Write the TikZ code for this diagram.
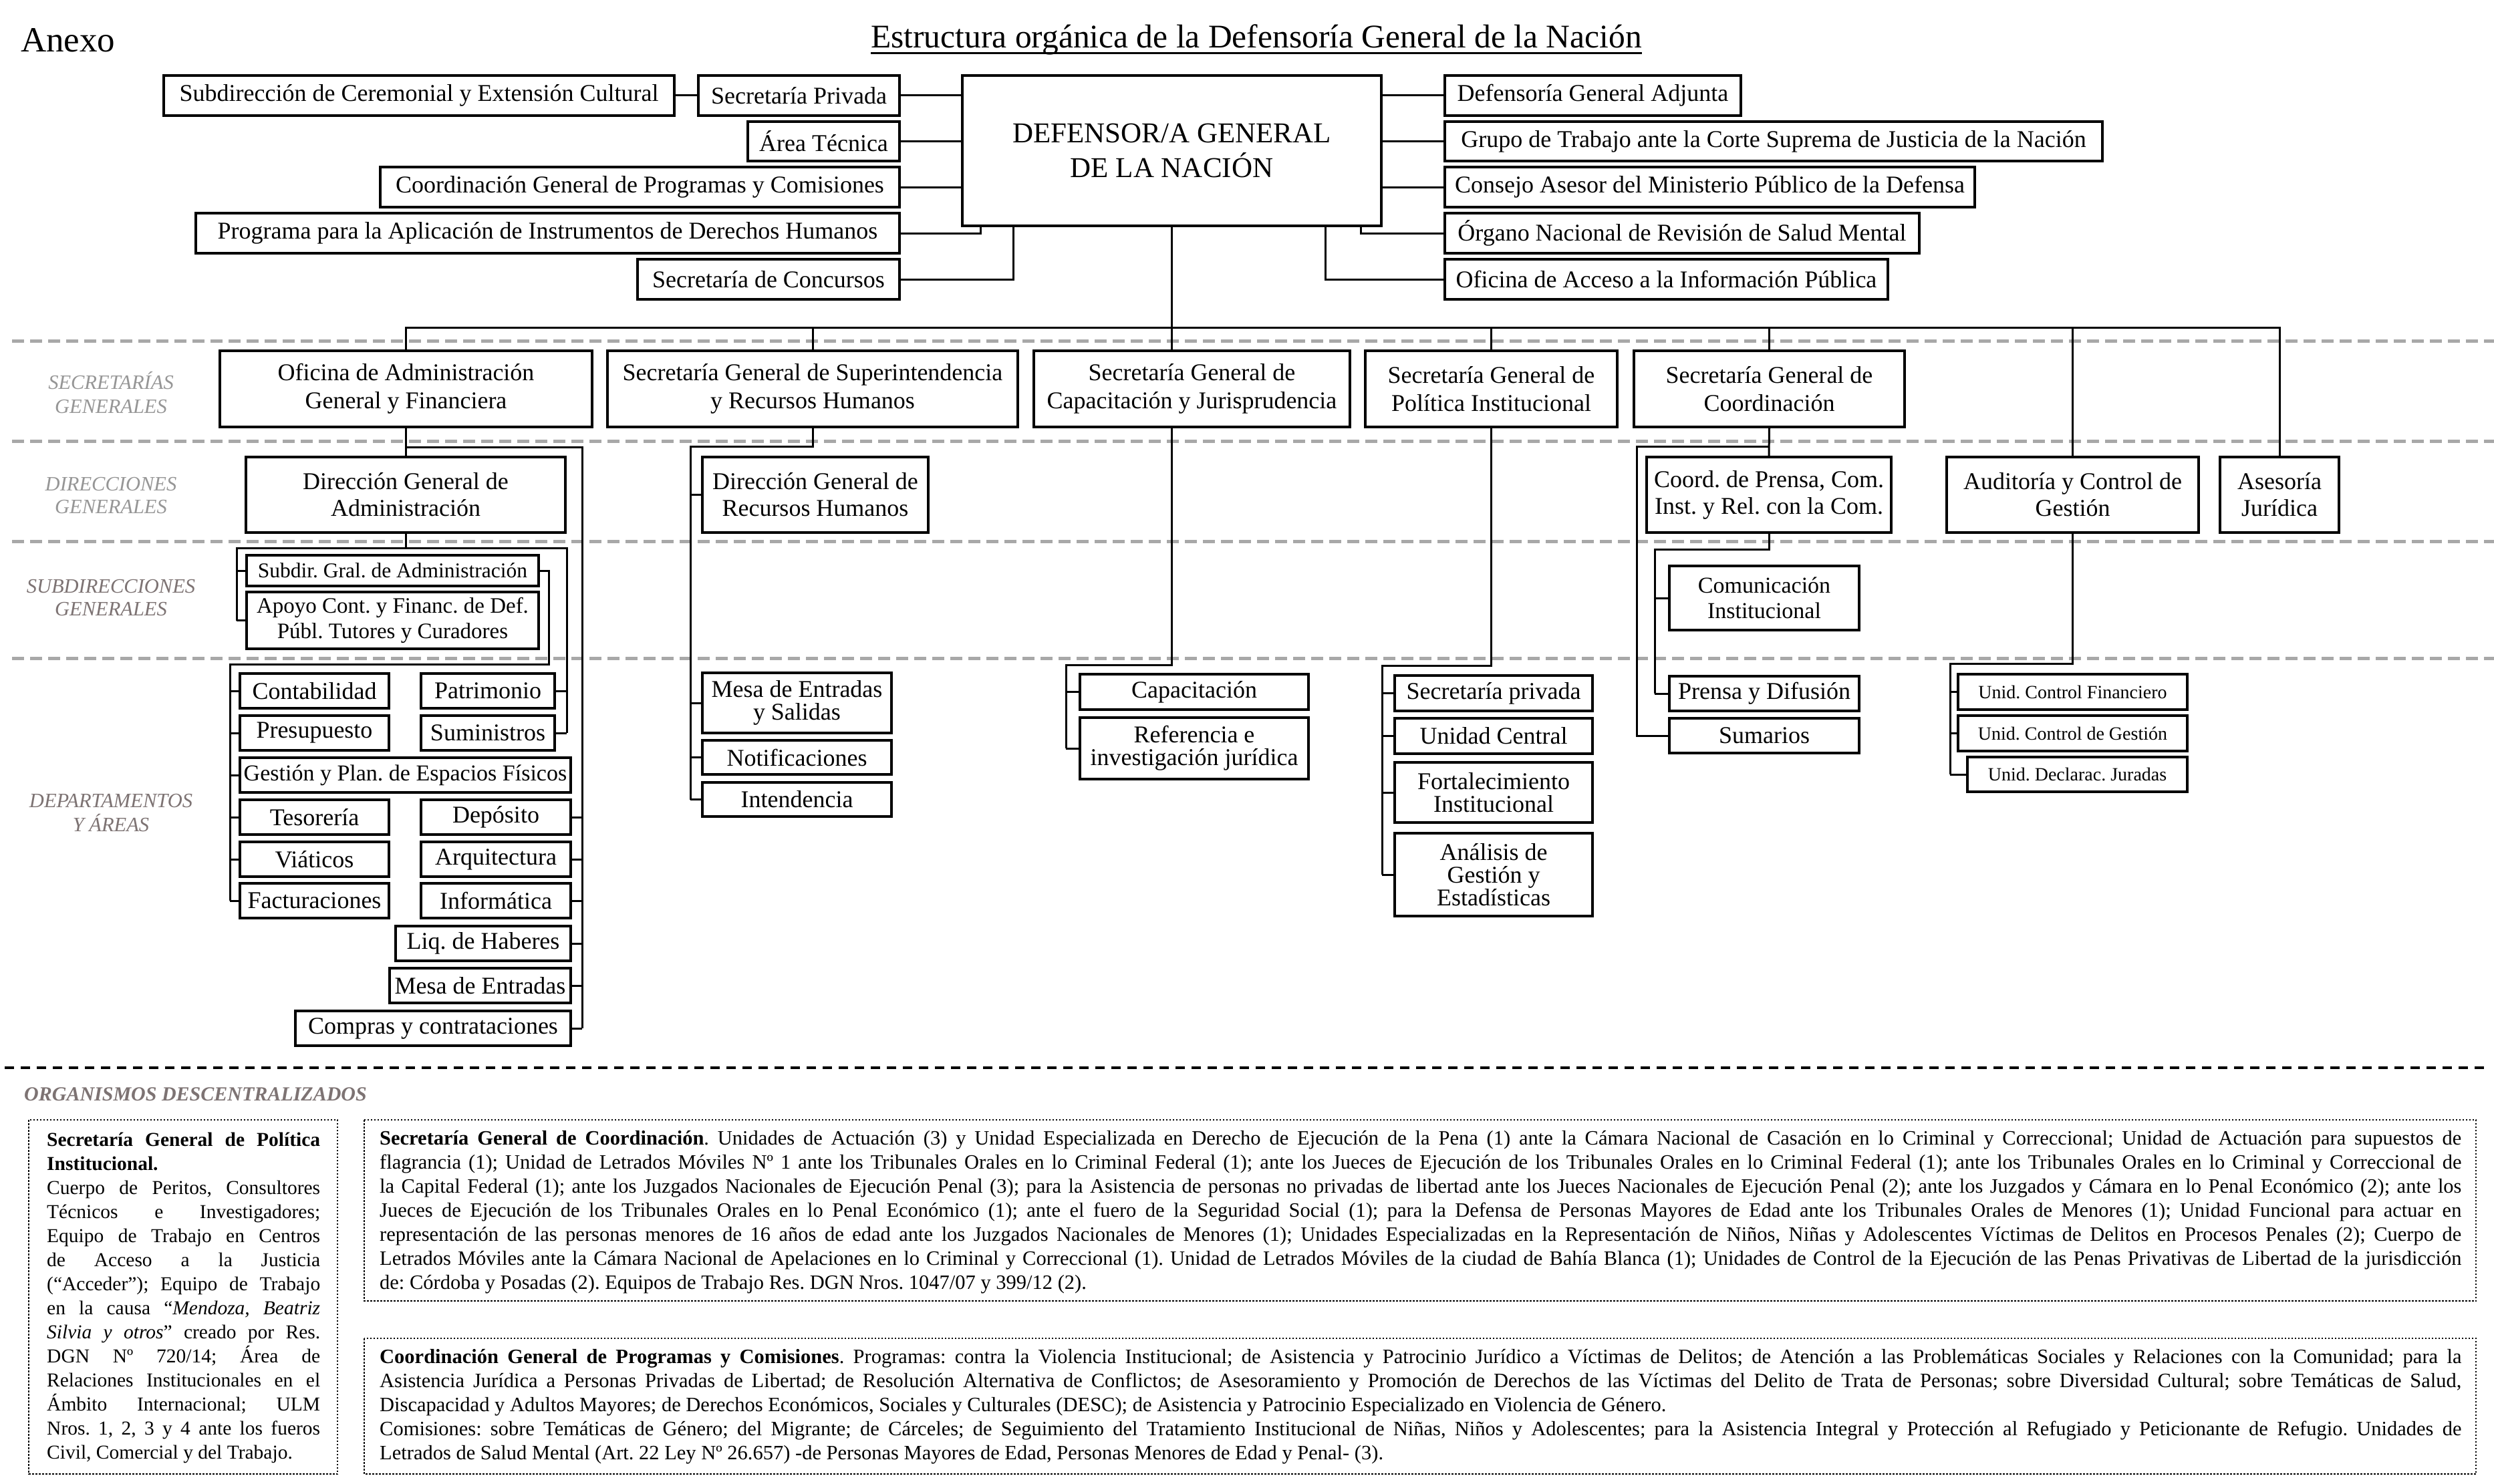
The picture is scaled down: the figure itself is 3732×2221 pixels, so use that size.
\documentclass[tikz,border=0pt]{standalone}
\usepackage{fontspec}
\setmainfont{Liberation Serif}
\usetikzlibrary{calc}
\frenchspacing
\definecolor{lblA}{RGB}{150,150,150}
\definecolor{lblB}{RGB}{125,115,115}
\definecolor{sepgray}{RGB}{168,168,168}
\newcommand{\fs}[2]{\fontsize{#1}{#2}\selectfont}
\newcommand{\bx}[7][]{\node[box,minimum width={(#5-#3)*1pt},minimum height={(#6-#4)*1pt},#1] (#2) at ({(#3+#5)/2},{(#4+#6)/2}) {#7};}
\tikzset{
  box/.style={draw, fill=white, line width=3.5pt, inner sep=0pt, outer sep=0pt, align=center, font=\fs{36}{42}},
  tight/.style={font=\fs{36}{34}},
  conn/.style={line width=3pt},
  sepline/.style={draw=sepgray, line width=5pt, dash pattern=on 18pt off 9pt},
  lbl/.style={font=\fs{30.5}{36}\itshape, inner sep=0pt, anchor=base},
  dotb/.style={line width=2.5pt, dash pattern=on 2.5pt off 2.5pt},
}
\begin{document}
\begin{tikzpicture}[x=1pt,y=-1pt]
\fill[white] (0,0) rectangle (3732,2221);
\useasboundingbox (0,0) rectangle (3732,2221);

% separators
\draw[sepline] (18,510) -- (3732,510);
\draw[sepline] (18,660) -- (3732,660);
\draw[sepline] (18,810) -- (3732,810);
\draw[sepline] (18,985) -- (3732,985);
\draw[line width=4pt, dash pattern=on 14pt off 10pt] (7,1598) -- (3722,1598);

% heading
\node[anchor=base west, inner sep=0pt, font=\fs{53}{60}] (anexo) at (31,78) {Anexo};
\node[anchor=base, inner sep=0pt, font=\fs{49.5}{56}] (title) at (1880,72) {Estructura orgánica de la Defensoría General de la Nación};
\draw[line width=3pt] ($(title.base west)+(0,8)$) -- ($(title.base east)+(0,8)$);

% left labels
\node[lbl, text=lblA] (lsec1) at (166,582) {SECRETARÍAS};
\node[lbl, text=lblA] (lsec2) at (166,618) {GENERALES};
\node[lbl, text=lblA] (ldir1) at (166,734) {DIRECCIONES};
\node[lbl, text=lblA] (ldir2) at (166,768) {GENERALES};
\node[lbl, text=lblB] (lsub1) at (166,887) {SUBDIRECCIONES};
\node[lbl, text=lblB] (lsub2) at (166,921) {GENERALES};
\node[lbl, text=lblB] (ldep1) at (166,1208) {DEPARTAMENTOS};
\node[lbl, text=lblB] (ldep2) at (166,1244) {Y ÁREAS};

% top
\bx[font=\fs{43}{52}]{DEF}{1440}{113}{2067}{338}{DEFENSOR/A GENERAL\\DE LA NACIÓN}
\bx{subdir}{245}{113}{1009}{173}{Subdirección de Ceremonial y Extensión Cultural}
\bx{secpriv}{1045}{113}{1346}{173}{Secretaría Privada}
\bx{areatec}{1119}{182}{1346}{241}{Área Técnica}
\bx{coordprog}{569}{250}{1346}{310}{Coordinación General de Programas y Comisiones}
\bx{progDH}{293}{319}{1346}{379}{Programa para la Aplicación de Instrumentos de Derechos Humanos}
\bx{seccon}{954}{388}{1346}{448}{Secretaría de Concursos}
\bx{adj}{2162}{113}{2605}{173}{Defensoría General Adjunta}
\bx{grupo}{2162}{182}{3146}{241}{Grupo de Trabajo ante la Corte Suprema de Justicia de la Nación}
\bx{consejo}{2162}{250}{2955}{310}{Consejo Asesor del Ministerio Público de la Defensa}
\bx{organo}{2162}{319}{2872}{379}{Órgano Nacional de Revisión de Salud Mental}
\bx{ofacc}{2162}{388}{2825}{448}{Oficina de Acceso a la Información Pública}

% secretarias
\bx{ofadm}{329}{525}{886}{639}{Oficina de Administración\\General y Financiera}
\bx{superint}{909}{525}{1523}{639}{Secretaría General de Superintendencia\\y Recursos Humanos}
\bx{capjur}{1547}{525}{2020}{639}{Secretaría General de\\Capacitación y Jurisprudencia}
\bx{polinst}{2043}{525}{2420}{639}{Secretaría General de\\Política Institucional}
\bx{coordsg}{2445}{525}{2850}{639}{Secretaría General de\\Coordinación}

% direcciones
\bx[font=\fs{36}{40}]{dgadm}{368}{684}{846}{797}{Dirección General de\\Administración}
\bx[font=\fs{36}{40}]{dgrrhh}{1051}{684}{1389}{797}{Dirección General de\\Recursos Humanos}
\bx[font=\fs{36}{40}]{coordprensa}{2464}{684}{2830}{797}{Coord. de Prensa, Com.\\Inst. y Rel. con la Com.}
\bx[font=\fs{36}{40}]{auditoria}{2913}{684}{3290}{797}{Auditoría y Control de\\Gestión}
\bx[font=\fs{36}{40}]{asesoria}{3322}{684}{3500}{797}{Asesoría\\Jurídica}

% subdirecciones
\bx[font=\fs{31.5}{36}]{subdirg}{369}{831}{806}{877}{Subdir. Gral. de Administración}
\bx[font=\fs{33}{38}]{apoyo}{369}{886}{806}{971}{Apoyo Cont. y Financ. de Def.\\Públ. Tutores y Curadores}
\bx[font=\fs{34}{38}]{comunic}{2498}{847}{2782}{943}{Comunicación\\Institucional}

% departamentos - administracion
\bx{contab}{359}{1008}{582}{1060}{Contabilidad}
\bx{patrim}{630}{1008}{830}{1060}{Patrimonio}
\bx{presup}{359}{1071}{582}{1123}{Presupuesto}
\bx{sumin}{630}{1071}{830}{1123}{Suministros}
\bx[font=\fs{34}{38}]{gestion}{359}{1134}{854}{1186}{Gestión y Plan. de Espacios Físicos}
\bx{tesor}{359}{1197}{582}{1249}{Tesorería}
\bx{deposito}{630}{1197}{854}{1249}{Depósito}
\bx{viaticos}{359}{1260}{582}{1312}{Viáticos}
\bx{arquit}{630}{1260}{854}{1312}{Arquitectura}
\bx{factur}{359}{1322}{582}{1374}{Facturaciones}
\bx{inform}{630}{1322}{854}{1374}{Informática}
\bx{liq}{592}{1386}{854}{1438}{Liq. de Haberes}
\bx{mesaent}{583}{1449}{854}{1501}{Mesa de Entradas}
\bx{compras}{442}{1513}{854}{1565}{Compras y contrataciones}

% superintendencia
\bx[tight]{mesaES}{1051}{1007}{1334}{1097}{Mesa de Entradas\\y Salidas}
\bx{notif}{1051}{1108}{1334}{1159}{Notificaciones}
\bx{intend}{1051}{1171}{1334}{1222}{Intendencia}

% capacitacion
\bx{capacit}{1616}{1009}{1958}{1062}{Capacitación}
\bx[tight]{referencia}{1616}{1074}{1958}{1166}{Referencia e\\investigación jurídica}

% politica
\bx{secprivada}{2087}{1011}{2383}{1064}{Secretaría privada}
\bx{unicentral}{2087}{1075}{2383}{1128}{Unidad Central}
\bx[tight]{fortalec}{2087}{1141}{2383}{1231}{Fortalecimiento\\Institucional}
\bx[tight]{analisis}{2087}{1247}{2383}{1371}{Análisis de\\Gestión y\\Estadísticas}

% coordinacion
\bx{prensa}{2498}{1012}{2782}{1064}{Prensa y Difusión}
\bx{sumarios}{2498}{1075}{2782}{1127}{Sumarios}

% auditoria
\bx[font=\fs{28}{32}]{ucf}{2930}{1009}{3273}{1062}{Unid. Control Financiero}
\bx[font=\fs{28}{32}]{ucg}{2930}{1071}{3273}{1124}{Unid. Control de Gestión}
\bx[font=\fs{28}{32}]{udj}{2944}{1133}{3273}{1185}{Unid. Declarac. Juradas}

% ---------- connectors ----------
\draw[conn] (subdir.east) -- (secpriv.west);
\foreach \n in {secpriv,areatec,coordprog} \draw[conn] (\n.east) -- (\n.east -| DEF.west);
\coordinate (dA) at (1467,338);
\coordinate (dB) at (1516,338);
\draw[conn] (progDH.east) -| (dA);
\draw[conn] (seccon.east) -| (dB);
\foreach \n in {adj,grupo,consejo} \draw[conn] (\n.west -| DEF.east) -- (\n.west);
\coordinate (dC) at (2036,338);
\coordinate (dD) at (1983,338);
\draw[conn] (dC) |- (organo.west);
\draw[conn] (dD) |- (ofacc.west);

\coordinate (bus) at (0,490);
\draw[conn] (ofadm.north) |- (bus -| asesoria.north) -- (asesoria.north);
\draw[conn] (DEF.south) -- (DEF.south |- capjur.north);
\foreach \n in {superint,polinst,coordsg} \draw[conn] (\n.north |- bus) -- (\n.north);
\draw[conn] (auditoria.north |- bus) -- (auditoria.north);

% oficina de administracion
\draw[conn] (ofadm.south) -- (ofadm.south |- dgadm.north);
\coordinate (spA) at (871,669);
\draw[conn] (ofadm.south |- spA) -- (spA) -- (spA |- compras.east);
\foreach \n in {deposito,arquit,inform,liq,mesaent,compras} \draw[conn] (\n.east) -- (\n.east -| spA);

\coordinate (bkL) at (354,820);
\coordinate (bkR) at (848,820);
\draw[conn] (dgadm.south) -- (dgadm.south |- bkL);
\draw[conn] (bkL |- apoyo.west) -- (bkL) -- (bkR) -- (bkR |- sumin.east);
\draw[conn] (bkL |- subdirg.west) -- (subdirg.west);
\draw[conn] (bkL |- apoyo.west) -- (apoyo.west);
\draw[conn] (patrim.east) -- (patrim.east -| bkR);
\draw[conn] (sumin.east) -- (sumin.east -| bkR);

\coordinate (spC) at (821,994);
\coordinate (spD) at (344,994);
\draw[conn] (subdirg.east) -| (spC) -- (spD) -- (spD |- factur.west);
\foreach \n in {contab,presup,gestion,tesor,viaticos,factur} \draw[conn] (\n.west -| spD) -- (\n.west);

% superintendencia
\coordinate (spB) at (1033,668);
\draw[conn] (superint.south) |- (spB) -- (spB |- intend.west);
\foreach \n in {dgrrhh,mesaES,notif,intend} \draw[conn] (\n.west -| spB) -- (\n.west);

% capacitacion
\coordinate (spE) at (1595,995);
\draw[conn] (capjur.south -| DEF.south) |- (spE) -- (spE |- referencia.west);
\foreach \n in {capacit,referencia} \draw[conn] (\n.west -| spE) -- (\n.west);

% politica
\coordinate (spF) at (2068,996);
\draw[conn] (polinst.south) |- (spF) -- (spF |- analisis.west);
\foreach \n in {secprivada,unicentral,fortalec,analisis} \draw[conn] (\n.west -| spF) -- (\n.west);

% coordinacion
\draw[conn] (coordsg.south) -- (coordprensa.north);
\coordinate (spG) at (2449,668);
\draw[conn] (coordsg.south |- spG) -- (spG) -- (spG |- sumarios.west) -- (sumarios.west);
\coordinate (spH) at (2476,822);
\draw[conn] (coordprensa.south) |- (spH) -- (spH |- prensa.west);
\foreach \n in {comunic,prensa} \draw[conn] (\n.west -| spH) -- (\n.west);

% auditoria
\coordinate (spI) at (2918,993);
\draw[conn] (auditoria.south) |- (spI) -- (spI |- udj.west);
\foreach \n in {ucf,ucg,udj} \draw[conn] (\n.west -| spI) -- (\n.west);

% ---------- organismos descentralizados ----------
\node[anchor=base west, inner sep=0pt, text=lblB, font=\fs{30}{36}\bfseries\itshape] (orgtit) at (36,1647) {ORGANISMOS DESCENTRALIZADOS};
\draw[dotb] (43,1676) rectangle (505,2206);
\draw[dotb] (545,1676) rectangle (3705,1947);
\draw[dotb] (545,2003) rectangle (3705,2206);

\node[anchor=base west, inner sep=0pt] (lefttxt) at (70,1715) {\parbox[t]{409pt}{\fs{29.5}{36}\frenchspacing\hyphenpenalty=10000\tolerance=10000\hbadness=10000%
\textbf{Secretaría General de Política\linebreak Institucional.}\newline
Cuerpo de Peritos, Consultores\linebreak
Técnicos e Investigadores;\linebreak
Equipo de Trabajo en Centros\linebreak
de Acceso a la Justicia\linebreak
(“Acceder”); Equipo de Trabajo\linebreak
en la causa “\textit{Mendoza, Beatriz\linebreak
Silvia y otros}” creado por Res.\linebreak
DGN Nº 720/14; Área de\linebreak
Relaciones Institucionales en el\linebreak
Ámbito Internacional; ULM\linebreak
Nros. 1, 2, 3 y 4 ante los fueros\linebreak
Civil, Comercial y del Trabajo.}};

\node[anchor=base west, inner sep=0pt] (sgctxt) at (568,1713) {\parbox[t]{3115pt}{\fs{30.5}{36}\frenchspacing\hyphenpenalty=10000\tolerance=10000\hbadness=10000%
\textbf{Secretaría General de Coordinación}. Unidades de Actuación (3) y Unidad Especializada en Derecho de Ejecución de la Pena (1) ante la Cámara Nacional de Casación en lo Criminal y Correccional; Unidad de Actuación para supuestos de\linebreak
flagrancia (1); Unidad de Letrados Móviles Nº 1 ante los Tribunales Orales en lo Criminal Federal (1); ante los Jueces de Ejecución de los Tribunales Orales en lo Criminal Federal (1); ante los Tribunales Orales en lo Criminal y Correccional de\linebreak
la Capital Federal (1); ante los Juzgados Nacionales de Ejecución Penal (3); para la Asistencia de personas no privadas de libertad ante los Jueces Nacionales de Ejecución Penal (2); ante los Juzgados y Cámara en lo Penal Económico (2); ante los\linebreak
Jueces de Ejecución de los Tribunales Orales en lo Penal Económico (1); ante el fuero de la Seguridad Social (1); para la Defensa de Personas Mayores de Edad ante los Tribunales Orales de Menores (1); Unidad Funcional para actuar en\linebreak
representación de las personas menores de 16 años de edad ante los Juzgados Nacionales de Menores (1); Unidades Especializadas en la Representación de Niños, Niñas y Adolescentes Víctimas de Delitos en Procesos Penales (2); Cuerpo de\linebreak
Letrados Móviles ante la Cámara Nacional de Apelaciones en lo Criminal y Correccional (1). Unidad de Letrados Móviles de la ciudad de Bahía Blanca (1); Unidades de Control de la Ejecución de las Penas Privativas de Libertad de la jurisdicción\linebreak
de: Córdoba y Posadas (2). Equipos de Trabajo Res. DGN Nros. 1047/07 y 399/12 (2).}};

\node[anchor=base west, inner sep=0pt] (cgptxt) at (568,2040) {\parbox[t]{3115pt}{\fs{30.5}{36}\frenchspacing\hyphenpenalty=10000\tolerance=10000\hbadness=10000%
\textbf{Coordinación General de Programas y Comisiones}. Programas: contra la Violencia Institucional; de Asistencia y Patrocinio Jurídico a Víctimas de Delitos; de Atención a las Problemáticas Sociales y Relaciones con la Comunidad; para la\linebreak
Asistencia Jurídica a Personas Privadas de Libertad; de Resolución Alternativa de Conflictos; de Asesoramiento y Promoción de Derechos de las Víctimas del Delito de Trata de Personas; sobre Diversidad Cultural; sobre Temáticas de Salud,\linebreak
Discapacidad y Adultos Mayores; de Derechos Económicos, Sociales y Culturales (DESC); de Asistencia y Patrocinio Especializado en Violencia de Género.\par
Comisiones: sobre Temáticas de Género; del Migrante; de Cárceles; de Seguimiento del Tratamiento Institucional de Niñas, Niños y Adolescentes; para la Asistencia Integral y Protección al Refugiado y Peticionante de Refugio. Unidades de\linebreak
Letrados de Salud Mental (Art. 22 Ley Nº 26.657) -de Personas Mayores de Edad, Personas Menores de Edad y Penal- (3).}};
\end{tikzpicture}
\end{document}
